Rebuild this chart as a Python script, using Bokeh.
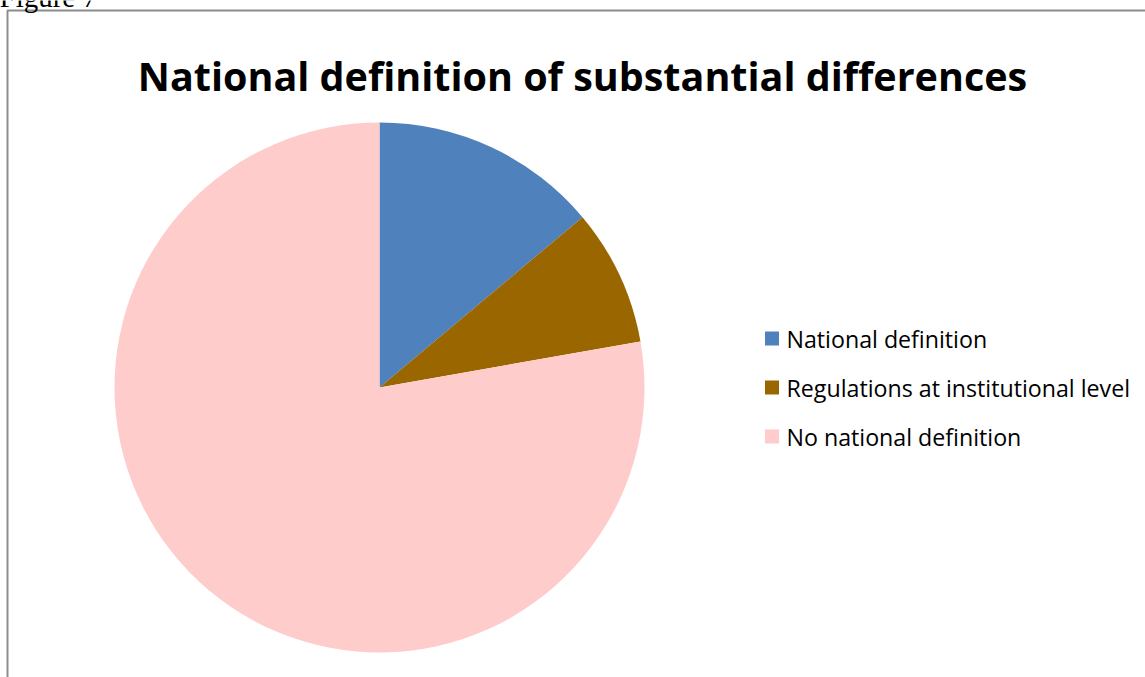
import math
from bokeh.plotting import figure
from bokeh.models import Range1d, Label
from bokeh.core.properties import value
from bokeh.embed import file_html
from bokeh.resources import INLINE

# ---- data ----
categories = ["National definition", "Regulations at institutional level", "No national definition"]
counts = [5, 3, 28]
colors = ["#4F81BD", "#996600", "#FFCCCC"]
title_text = "National definition of substantial differences"
caption_text = "Figure 7"

W, H = 1145, 677
p = figure(width=W, height=H, output_backend="svg", toolbar_location=None,
           x_range=Range1d(0, W), y_range=Range1d(-H, 0),
           min_border=0, min_border_left=0, min_border_right=0,
           min_border_top=0, min_border_bottom=0)
p.axis.visible = False
p.grid.visible = False
p.outline_line_color = None
p.background_fill_color = "white"
p.border_fill_color = "white"

# chart border (top and left visible)
p.line([7, 7, 1160], [-700, -10, -10], line_color="#8C8C8C", line_width=2)

# caption above the chart (cut off at the page top, as in the source)
p.add_layout(Label(x=-1, y=4, text=caption_text, text_font="Liberation Serif",
                   text_font_size="29px", text_align="left",
                   text_baseline="alphabetic", text_color="black"))

# pie
total = sum(counts)
cum = 0.0
starts, ends = [], []
for c in counts:
    starts.append(math.pi / 2 - 2 * math.pi * cum / total)
    cum += c
    ends.append(math.pi / 2 - 2 * math.pi * cum / total)

cx, cy, r = 379, -387, 265
p.wedge(x=[cx] * len(counts), y=[cy] * len(counts), radius=r,
        start_angle=starts, end_angle=ends, direction="clock",
        fill_color=colors, line_color=None)

# title
p.add_layout(Label(x=582, y=-75, text=title_text, text_font="Open Sans",
                   text_font_style="bold", text_font_size="39.5px",
                   text_align="center", text_baseline="alphabetic",
                   text_color="black"))

# legend
ly = [-338 - 49 * i for i in range(len(categories))]
p.rect(x=[771.5] * len(categories), y=ly, width=14, height=14,
       fill_color=colors, line_color=None)
p.text(x=[786] * len(categories), y=ly, text=categories,
       text_font=value("Open Sans"), text_font_size="23.2px",
       text_baseline="middle", text_align="left", text_color="black")

open("out.html", "w").write(file_html(p, INLINE))
